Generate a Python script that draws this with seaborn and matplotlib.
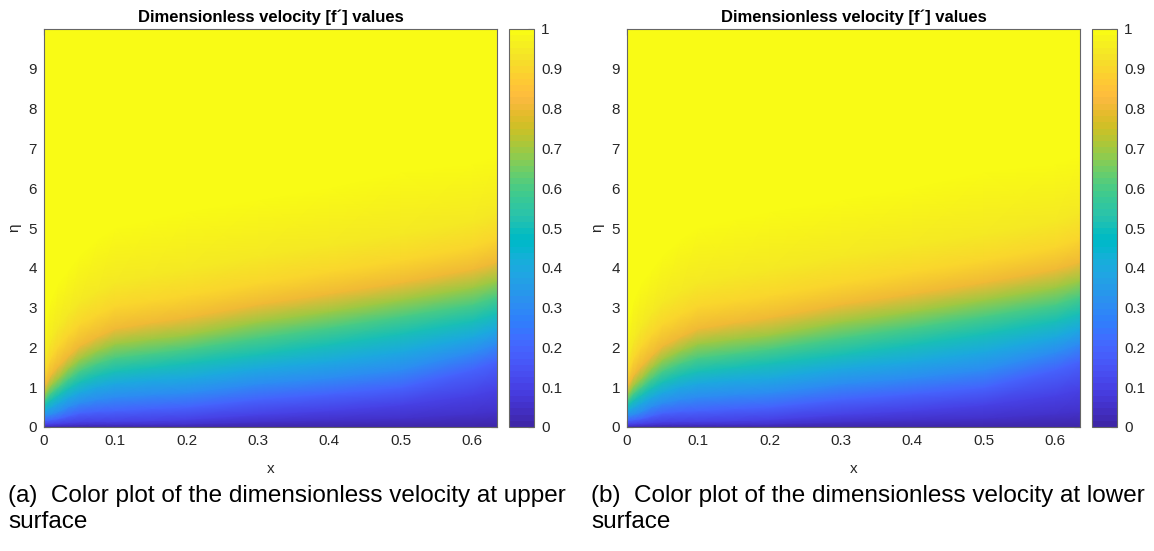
import numpy as np
import matplotlib
matplotlib.use("Agg")
import matplotlib.pyplot as plt
import seaborn as sns
from matplotlib.colors import ListedColormap

# ---------------- data ----------------
# stations along the surface (x)
x_stations = [0.0, 0.01, 0.02, 0.035, 0.05, 0.075, 0.1, 0.15, 0.2, 0.3, 0.4, 0.5, 0.6, 0.635]
# dimensionless velocity levels f'
fp_levels = [0.0, 0.05, 0.1, 0.2, 0.3, 0.4, 0.5, 0.6, 0.7, 0.8, 0.9, 0.95, 0.99, 1.0, 1.0]
# eta at which f' reaches each level, one list per station (upper surface)
eta_x000 = [0, 0.03, 0.07, 0.16, 0.28, 0.40, 0.53, 0.66, 0.81, 1.00, 1.33, 1.68, 2.5, 3.5, 10]
eta_x001 = [0, 0.035, 0.08, 0.18, 0.32, 0.50, 0.68, 0.86, 1.06, 1.32, 1.75, 2.20, 3.2, 4.4, 10]
eta_x002 = [0, 0.045, 0.09, 0.21, 0.38, 0.60, 0.80, 1.00, 1.22, 1.53, 2.02, 2.52, 3.6, 4.9, 10]
eta_x0035 = [0, 0.052, 0.11, 0.28, 0.51, 0.75, 0.98, 1.22, 1.49, 1.80, 2.33, 2.87, 3.95, 5.4, 10]
eta_x005 = [0, 0.061, 0.13, 0.35, 0.60, 0.87, 1.13, 1.41, 1.70, 2.04, 2.58, 3.15, 4.3, 5.7, 10]
eta_x0075 = [0, 0.066, 0.14, 0.39, 0.69, 1.01, 1.29, 1.60, 1.92, 2.27, 2.82, 3.41, 4.7, 6.2, 10]
eta_x010 = [0, 0.066, 0.14, 0.41, 0.75, 1.10, 1.40, 1.74, 2.09, 2.47, 3.03, 3.63, 5.0, 6.6, 10]
eta_x015 = [0, 0.07, 0.16, 0.46, 0.81, 1.18, 1.50, 1.85, 2.21, 2.62, 3.17, 3.81, 5.2, 6.9, 10]
eta_x020 = [0, 0.075, 0.19, 0.50, 0.86, 1.23, 1.60, 1.96, 2.31, 2.75, 3.30, 3.96, 5.4, 7.1, 10]
eta_x030 = [0, 0.13, 0.31, 0.69, 1.08, 1.47, 1.82, 2.24, 2.64, 3.08, 3.61, 4.29, 5.7, 7.7, 10]
eta_x040 = [0, 0.18, 0.41, 0.83, 1.23, 1.65, 2.07, 2.50, 2.90, 3.35, 3.90, 4.57, 6.0, 8.3, 10]
eta_x050 = [0, 0.22, 0.55, 0.99, 1.43, 1.89, 2.34, 2.78, 3.19, 3.63, 4.18, 4.84, 6.4, 8.7, 10]
eta_x060 = [0, 0.33, 0.79, 1.43, 1.87, 2.26, 2.66, 3.08, 3.50, 3.96, 4.51, 5.17, 6.6, 9.0, 10]
eta_x0635 = [0, 0.39, 0.94, 1.65, 2.09, 2.47, 2.86, 3.28, 3.68, 4.15, 4.73, 5.39, 6.8, 9.2, 10]
eta_upper = [eta_x000, eta_x001, eta_x002, eta_x0035, eta_x005, eta_x0075, eta_x010,
             eta_x015, eta_x020, eta_x030, eta_x040, eta_x050, eta_x060, eta_x0635]
# the lower-surface plot reads the same values
eta_lower = [list(r) for r in eta_upper]

x_ticks = [0, 0.1, 0.2, 0.3, 0.4, 0.5, 0.6]
x_ticklabels = ["0", "0.1", "0.2", "0.3", "0.4", "0.5", "0.6"]
y_ticks = [0, 1, 2, 3, 4, 5, 6, 7, 8, 9]
cb_ticks = [0, 0.1, 0.2, 0.3, 0.4, 0.5, 0.6, 0.7, 0.8, 0.9, 1.0]
cb_ticklabels = ["0", "0.1", "0.2", "0.3", "0.4", "0.5", "0.6", "0.7", "0.8", "0.9", "1"]
title = "Dimensionless velocity [f\u00b4] values"
captions = [("(a)  Color plot of the dimensionless velocity at upper", "surface"),
            ("(b)  Color plot of the dimensionless velocity at lower", "surface")]

# MATLAB parula (64)
parula_data = [
    [0.2422, 0.1504, 0.6603], [0.2504, 0.1650, 0.7076], [0.2578, 0.1818, 0.7511], [0.2647, 0.1978, 0.7952],
    [0.2706, 0.2147, 0.8364], [0.2751, 0.2342, 0.8710], [0.2783, 0.2559, 0.8991], [0.2803, 0.2782, 0.9221],
    [0.2813, 0.3006, 0.9414], [0.2810, 0.3228, 0.9579], [0.2795, 0.3447, 0.9717], [0.2760, 0.3667, 0.9829],
    [0.2699, 0.3892, 0.9906], [0.2602, 0.4123, 0.9952], [0.2440, 0.4358, 0.9988], [0.2206, 0.4603, 0.9973],
    [0.1963, 0.4847, 0.9892], [0.1834, 0.5074, 0.9798], [0.1786, 0.5289, 0.9682], [0.1764, 0.5499, 0.9520],
    [0.1687, 0.5703, 0.9359], [0.1540, 0.5902, 0.9218], [0.1460, 0.6091, 0.9079], [0.1380, 0.6276, 0.8973],
    [0.1248, 0.6459, 0.8883], [0.1113, 0.6635, 0.8763], [0.0952, 0.6798, 0.8598], [0.0689, 0.6948, 0.8394],
    [0.0297, 0.7082, 0.8163], [0.0036, 0.7203, 0.7917], [0.0067, 0.7312, 0.7660], [0.0433, 0.7411, 0.7394],
    [0.0964, 0.7500, 0.7120], [0.1408, 0.7584, 0.6842], [0.1717, 0.7670, 0.6554], [0.1938, 0.7758, 0.6251],
    [0.2161, 0.7843, 0.5923], [0.2470, 0.7918, 0.5567], [0.2906, 0.7973, 0.5188], [0.3406, 0.8008, 0.4789],
    [0.3909, 0.8029, 0.4354], [0.4456, 0.8024, 0.3909], [0.5044, 0.7993, 0.3480], [0.5616, 0.7942, 0.3045],
    [0.6174, 0.7876, 0.2612], [0.6720, 0.7793, 0.2227], [0.7242, 0.7698, 0.1910], [0.7738, 0.7598, 0.1646],
    [0.8203, 0.7498, 0.1535], [0.8634, 0.7406, 0.1596], [0.9035, 0.7330, 0.1774], [0.9393, 0.7288, 0.2100],
    [0.9728, 0.7298, 0.2394], [0.9956, 0.7434, 0.2371], [0.9970, 0.7659, 0.2199], [0.9952, 0.7893, 0.2028],
    [0.9892, 0.8136, 0.1885], [0.9786, 0.8386, 0.1766], [0.9676, 0.8639, 0.1643], [0.9610, 0.8890, 0.1537],
    [0.9597, 0.9135, 0.1423], [0.9628, 0.9373, 0.1265], [0.9691, 0.9606, 0.1064], [0.9769, 0.9839, 0.0805]]
parula = ListedColormap(parula_data, name="parula")

# ---------------- style ----------------
sns.set_theme(style="white")
plt.rcParams["font.family"] = ["Liberation Sans", "DejaVu Sans"]
TXT = "#262626"

W, H = 1154, 551
fig = plt.figure(figsize=(W / 100, H / 100), dpi=100)


def fx(px):
    return px / W


def fy(py):
    return 1 - py / H


panels = [
    dict(ax_left=44, cb_left=509, cap_left=8, eta=eta_upper, cap=captions[0]),
    dict(ax_left=627, cb_left=1092, cap_left=591, eta=eta_lower, cap=captions[1]),
]
ax_top, ax_bot, ax_w, cb_w = 29, 427, 453, 25

for p in panels:
    ax = fig.add_axes([fx(p["ax_left"]), fy(ax_bot), fx(ax_w), (ax_bot - ax_top) / H])
    cax = fig.add_axes([fx(p["cb_left"]), fy(ax_bot), fx(cb_w), (ax_bot - ax_top) / H])

    X = np.tile(np.asarray(x_stations)[None, :], (len(fp_levels), 1))
    Y = np.asarray(p["eta"], dtype=float).T
    C = np.tile(np.asarray(fp_levels)[:, None], (1, len(x_stations)))
    mesh = ax.pcolormesh(X, Y, C, shading="gouraud", cmap=parula, vmin=0, vmax=1,
                         rasterized=True)

    ax.set_xlim(x_stations[0], x_stations[-1])
    ax.set_ylim(0, 10)
    ax.set_xticks(x_ticks)
    ax.set_xticklabels(x_ticklabels)
    ax.set_yticks(y_ticks)
    ax.tick_params(direction="in", length=4, width=0.8, color="#262626",
                   labelsize=11, labelcolor=TXT, top=True, right=True,
                   bottom=True, left=True, pad=5)
    ax.set_xlabel("x", fontsize=11, color=TXT, labelpad=10)
    ax.set_ylabel("\u03b7", fontsize=11, color=TXT, labelpad=5)
    ax.set_title(title, fontsize=12, fontweight="bold", color="black", pad=5)
    for s in ax.spines.values():
        s.set_color("#666666")
        s.set_linewidth(0.8)

    cb = fig.colorbar(mesh, cax=cax, ticks=cb_ticks)
    cb.ax.set_yticklabels(cb_ticklabels)
    cb.ax.tick_params(direction="in", length=4, width=0.8, color="#262626",
                      labelsize=11, labelcolor=TXT, right=True, left=False, pad=5)
    cb.outline.set_edgecolor("#666666")
    cb.outline.set_linewidth(0.8)

    fig.text(fx(p["cap_left"]), fy(502), p["cap"][0], fontsize=17.5, color="black",
             ha="left", va="baseline")
    fig.text(fx(p["cap_left"]), fy(528), p["cap"][1], fontsize=17.5, color="black",
             ha="left", va="baseline")

fig.savefig("out.png", dpi=100)
